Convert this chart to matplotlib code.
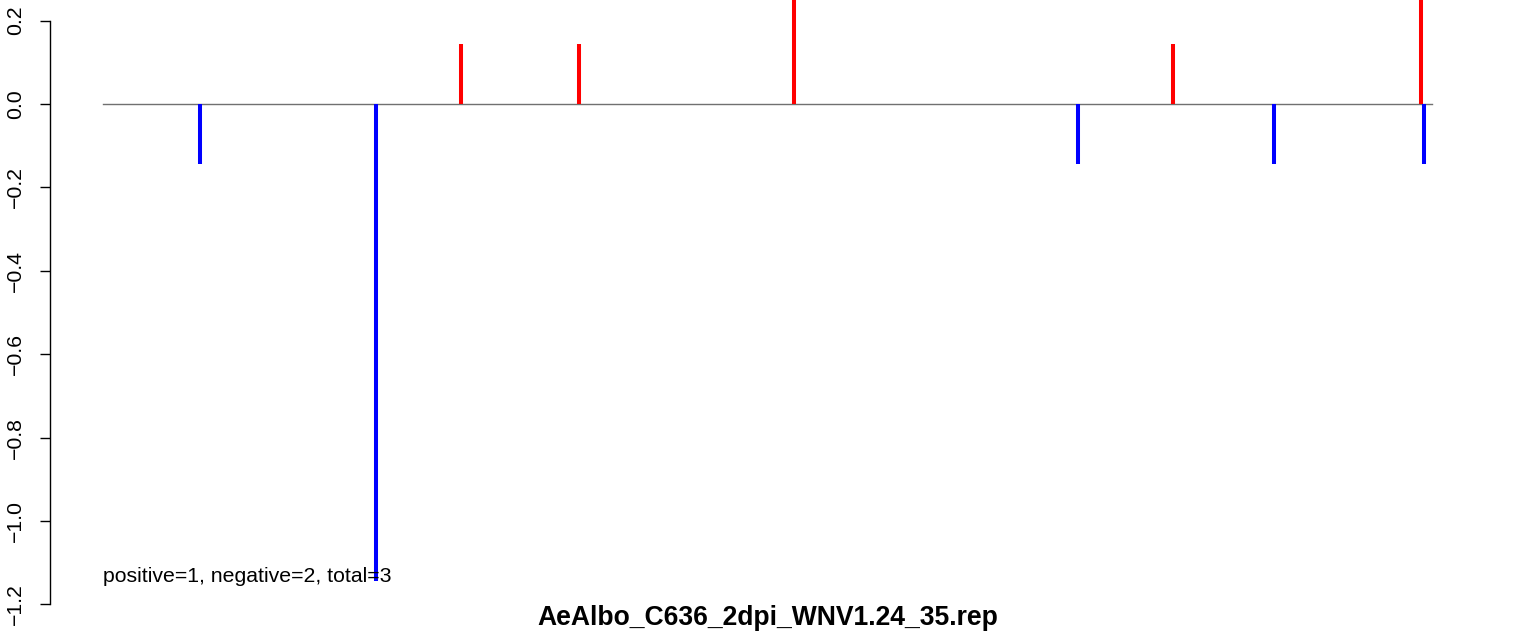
import matplotlib
matplotlib.use("Agg")
import matplotlib.pyplot as plt
import numpy as np

plt.rcParams['font.family'] = ['Liberation Sans', 'DejaVu Sans']

# read positions along the reference (arbitrary units) and strand counts / 7
positions = [97, 273, 358, 476, 691, 975, 1070, 1171, 1318, 1321]
values = [-1/7, -8/7, 1/7, 1/7, 2/7, -1/7, 1/7, -1/7, 2/7, -1/7]
seq_len = 1329
title = "AeAlbo_C636_2dpi_WNV1.24_35.rep"
note = "positive=1, negative=2, total=3"
yticks = [-1.2, -1.0, -0.8, -0.6, -0.4, -0.2, 0.0, 0.2]

W, H = 1536, 635
fig = plt.figure(figsize=(W / 100, H / 100), dpi=100)
ax = fig.add_axes([50 / W, (H - 610) / H, (1485 - 50) / W, 610 / H])

pad = 0.04 * seq_len
ax.set_xlim(-pad, seq_len + pad)
ax.set_ylim((104 - 610) / 417, 104 / 417)

ax.plot([0, seq_len], [0, 0], color="#707070", lw=1.0, zorder=1)
for p, v in zip(positions, values):
    ax.plot([p, p], [0, v], color="red" if v > 0 else "blue", lw=2.9,
            solid_capstyle="butt", zorder=2)

ax.text(0, -1.133, note, fontsize=15.3, ha="left", va="center")

for s in ["top", "right", "bottom"]:
    ax.spines[s].set_visible(False)
ax.spines["left"].set_bounds(-1.2, 0.2)
ax.spines["left"].set_linewidth(1.0)
ax.set_xticks([])
ax.set_yticks(yticks)
ax.set_yticklabels([("%.1f" % t).replace("-", "\u2212") if t != 0 else "0.0"
                    for t in yticks],
                   rotation=90, va="center", fontsize=15.3)
ax.tick_params(axis="y", direction="out", length=7.2, width=1.0, pad=11)

fig.text((50 + 1485) / 2 / W, (H - 618) / H, title, fontsize=19.1,
         fontweight="bold", ha="center", va="center")

fig.savefig("out.png", dpi=100)
